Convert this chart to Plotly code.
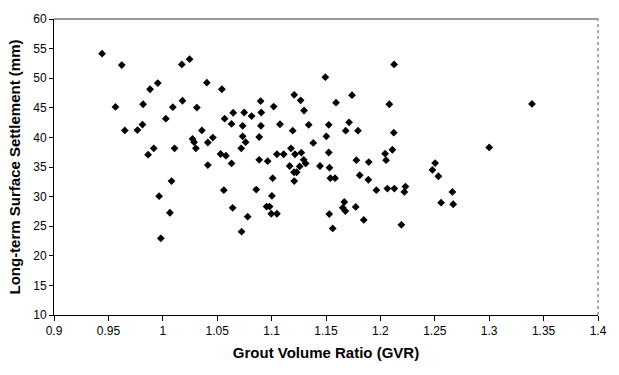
import plotly.graph_objects as go

gvr = [0.9442, 0.9623, 1.0175, 1.0246, 0.9954, 0.9883, 0.9565, 0.9819, 1.0092, 1.0181,
       1.0313, 1.0028, 0.9651, 0.9767, 0.9813, 1.0273, 1.0288, 1.0304, 0.9917, 0.9865,
       1.0108, 1.0080, 0.9966, 1.0065, 0.9982, 1.0405, 1.0543, 1.0899, 1.1019, 1.1208,
       1.1267, 1.1298, 1.1494, 1.0647, 1.0748, 1.0816, 1.0905, 1.0568, 1.0632, 1.0734,
       1.0902, 1.1077, 1.1341, 1.1525, 1.0359, 1.1194, 1.0460, 1.0414, 1.0734, 1.0761,
       1.0886, 1.0721, 1.1383, 1.1503, 1.0531, 1.0580, 1.0632, 1.0414, 1.0886, 1.0964,
       1.1049, 1.1111, 1.1178, 1.1215, 1.1273, 1.1295, 1.1313, 1.1166, 1.1258, 1.1206,
       1.1230, 1.1445, 1.1525, 1.1532, 1.1010, 1.1208, 1.1540, 1.1583, 1.0561, 1.0859,
       1.1003, 1.0642, 1.0954, 1.0982, 1.0997, 1.1049, 1.1530, 1.0780, 1.0724, 1.2126,
       1.1739, 1.1592, 1.2082, 1.1712, 1.1681, 1.1794, 1.2123, 1.2043, 1.2110, 1.1779,
       1.1893, 1.2052, 1.2503, 1.2478, 1.2533, 1.1810, 1.1889, 1.1963, 1.2064, 1.2128,
       1.2230, 1.2220, 1.2662, 1.1668, 1.1773, 1.1654, 1.1678, 1.2558, 1.2669, 1.1847,
       1.1562, 1.2193, 1.3393, 1.3000]

settlement = [54.14, 52.22, 52.32, 53.21, 49.17, 48.13, 45.15, 45.60, 45.10, 46.19,
              45.03, 43.16, 41.18, 41.23, 42.17, 39.74, 39.19, 38.15, 38.15, 37.09,
              38.15, 32.62, 30.08, 27.27, 22.96, 49.24, 48.13, 46.14, 45.20, 47.19,
              46.26, 44.54, 50.17, 44.16, 44.21, 43.61, 44.21, 43.16, 42.28, 41.95,
              41.95, 42.22, 42.12, 42.12, 41.18, 41.13, 39.97, 39.14, 40.18, 39.19,
              40.07, 38.15, 39.07, 40.18, 37.20, 36.92, 35.60, 35.33, 36.21, 35.99,
              37.15, 37.15, 38.15, 37.15, 37.42, 36.21, 35.60, 35.17, 35.10, 34.11,
              34.11, 35.17, 37.45, 34.88, 33.11, 32.62, 33.11, 33.11, 31.08, 31.19,
              30.13, 28.10, 28.31, 28.31, 27.10, 27.10, 27.05, 26.61, 24.07, 52.32,
              47.14, 45.86, 45.60, 42.55, 41.13, 41.13, 40.79, 37.25, 37.91, 36.16,
              35.83, 36.16, 35.66, 34.50, 33.44, 33.61, 32.85, 31.08, 31.36, 31.36,
              31.69, 30.79, 30.79, 29.09, 28.26, 28.10, 27.55, 28.97, 28.71, 26.06,
              24.62, 25.23, 45.65, 38.31]

x_ticks = [0.9, 0.95, 1, 1.05, 1.1, 1.15, 1.2, 1.25, 1.3, 1.35, 1.4]
x_tick_text = ["0.9", "0.95", "1", "1.05", "1.1", "1.15", "1.2", "1.25", "1.3", "1.35", "1.4"]
y_ticks = [10, 15, 20, 25, 30, 35, 40, 45, 50, 55, 60]

fig = go.Figure()
fig.add_trace(go.Scatter(
    x=gvr, y=settlement, mode="markers",
    marker=dict(symbol="diamond", size=6, color="black"),
    showlegend=False,
))

font_family = "Liberation Sans, Arial, sans-serif"

fig.update_layout(
    width=619, height=375,
    margin=dict(l=54, r=21, t=13, b=60),
    paper_bgcolor="white", plot_bgcolor="white",
    font=dict(family=font_family, size=12, color="black"),
    xaxis=dict(
        range=[0.9, 1.4], tickvals=x_ticks, ticktext=x_tick_text,
        showgrid=False, zeroline=False,
        showline=True, linecolor="black", linewidth=1,
        ticks="outside", ticklen=5, tickcolor="black",
        title=dict(text="<b>Grout Volume Ratio (GVR)</b>", font=dict(size=15), standoff=10),
    ),
    yaxis=dict(
        range=[10, 60], tickvals=y_ticks,
        showgrid=False, zeroline=False,
        showline=True, linecolor="black", linewidth=1,
        ticks="outside", ticklen=4, tickcolor="black",
        title=dict(text="<b>Long-term Surface Settlement (mm)</b>", font=dict(size=15), standoff=8),
    ),
)

# top and right frame lines (as in the scanned original)
fig.add_shape(type="line", xref="paper", yref="paper", x0=0, x1=1, y0=1, y1=1,
              line=dict(color="#333333", width=1))
fig.add_shape(type="line", xref="paper", yref="paper", x0=1, x1=1, y0=0, y1=1,
              line=dict(color="#555555", width=1, dash="dot"))

fig.write_html("out.html")
